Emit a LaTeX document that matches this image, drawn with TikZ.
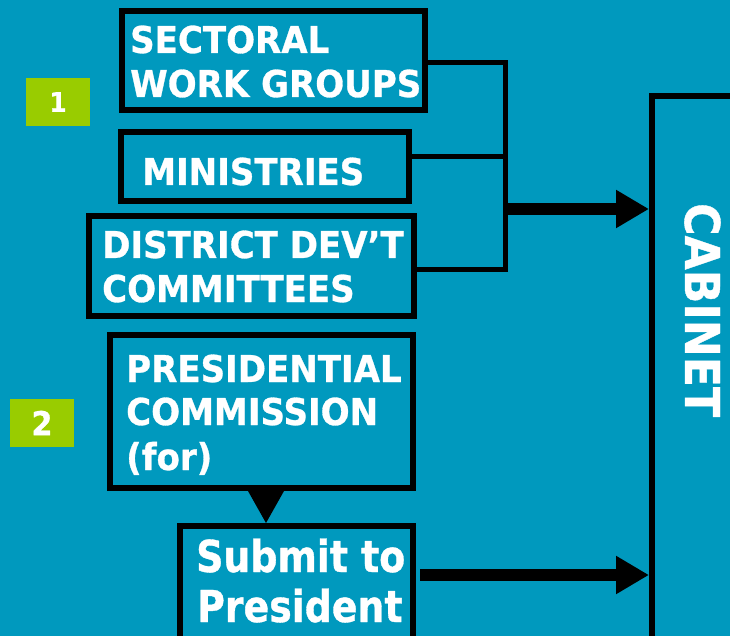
\documentclass[tikz,border=0pt]{standalone}
\usepackage{fontspec}
\setmainfont{DejaVu Sans}[FakeStretch=0.92,BoldFeatures={FakeBold=0.8}]
\newfontfamily\bigf{DejaVu Sans}[FakeStretch=0.86,BoldFeatures={FakeBold=0.8}]
\usetikzlibrary{arrows.meta}
\definecolor{bgc}{RGB}{0,153,190}
\definecolor{grn}{RGB}{153,204,0}
\begin{document}
\begin{tikzpicture}[x=1pt,y=-1pt,
  box/.style={draw=black,line width=6pt,fill=bgc,inner sep=0pt},
  txt/.style={text=white,font=\bfseries\fontsize{37}{44}\selectfont,inner sep=0pt,anchor=base west},
  big/.style={txt,font=\bigf\bfseries\fontsize{44}{52}\selectfont},
  brk/.style={line width=5pt},
  conn/.style={line width=12.5pt,-{Triangle[length=33pt,width=36pt]}},
  tag/.style={fill=grn,inner sep=0pt,minimum width=64pt,minimum height=48pt,text=white}]
\useasboundingbox (0,0) rectangle (730,636);
\fill[bgc] (0,0) rectangle (730,636);
% boxes
\node[box,minimum width=303pt,minimum height=99pt] (sect) at (273.5,60.5) {};
\node[box,minimum width=288pt,minimum height=69pt] (mini) at (265,166.5) {};
\node[box,minimum width=325pt,minimum height=100pt] (dist) at (251.5,266) {};
\node[box,minimum width=303pt,minimum height=153pt] (pres) at (261.5,411.5) {};
\node[box,minimum width=233pt,minimum height=134pt] (sub) at (296.5,593) {};
\node[box,minimum width=108pt,minimum height=564pt] (cab) at (706,378) {};
% texts
\node[txt] (s1) at (130,53) {SECTORAL};
\node[txt] (s2) at (130,97) {WORK GROUPS};
\node[txt] (m1) at (142,185) {MINISTRIES};
\node[txt] (d1) at (102,258) {DISTRICT DEV’T};
\node[txt] (d2) at (102,302) {COMMITTEES};
\node[txt] (p1) at (126,382) {PRESIDENTIAL};
\node[txt] (p2) at (126,425) {COMMISSION};
\node[txt] (p3) at (126,470) {(for)};
\node[big] (u1) at (196,572) {Submit to};
\node[big] (u2) at (197,622) {President};
\node[text=white,font=\bfseries\fontsize{48}{48}\selectfont,inner sep=0pt,rotate=-90,anchor=base west] (cabt) at (685,203) {CABINET};
% tags
\node[tag,font=\bfseries\fontsize{27}{27}\selectfont] (g1) at (58,102) {1};
\node[tag,font=\bfseries\fontsize{33}{33}\selectfont] (g2) at (42,423) {2};
% bracket
\coordinate (bt) at (505.5,63);
\coordinate (bmi) at (505.5,157);
\coordinate (bm) at (505.5,209);
\coordinate (bb) at (505.5,269);
\draw[brk] (sect.east |- bt) -- (bt) -- (bb) -- (dist.east |- bb);
\draw[brk] (mini.east |- bmi) -- (bmi);
\draw[conn] (bm) -- (cab.west |- bm);
\coordinate (sa) at (420,575);
\draw[conn] (sa) -- (cab.west |- sa);
% triangle between commission and submit
\fill ([xshift=-13.5pt]pres.south) -- ([xshift=22.5pt]pres.south) -- (sub.north -| 266,0) -- cycle;
\end{tikzpicture}
\end{document}
